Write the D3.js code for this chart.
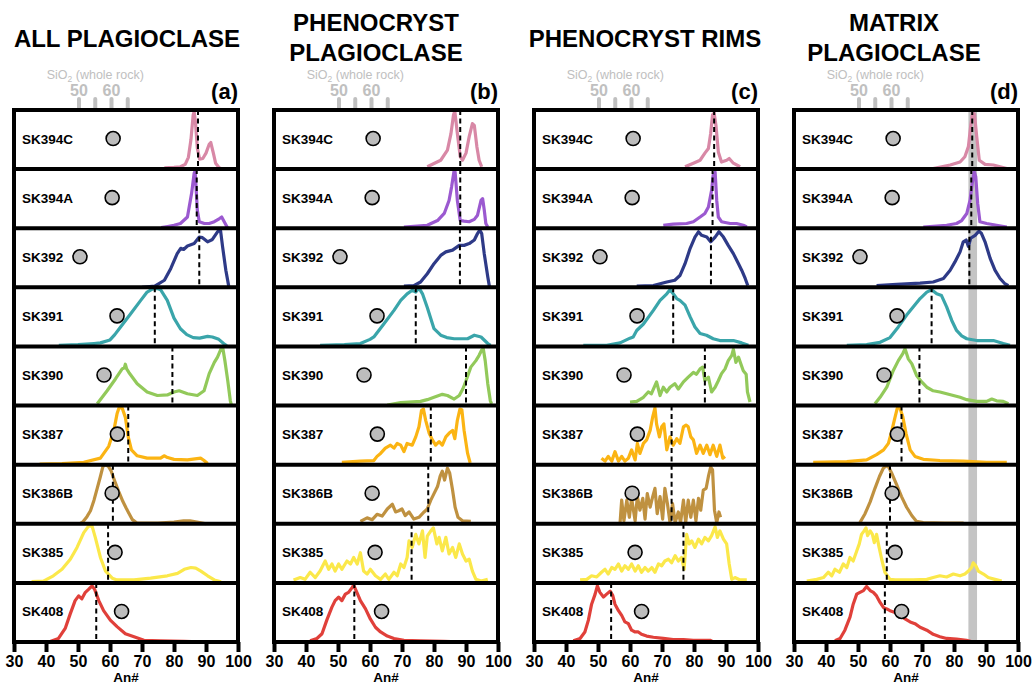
<!DOCTYPE html>
<html>
<head>
<meta charset="utf-8">
<script src="https://cdn.jsdelivr.net/npm/d3@7"></script>
<style>
  body { margin: 0; background: #fff; }
  svg { display: block; font-family: "Liberation Sans", Arial, sans-serif; }
</style>
</head>
<body>
<div class="canvas"></div>
<script>
// samples, top to bottom
const samples = ["SK394C", "SK394A", "SK392", "SK391", "SK390", "SK387", "SK386B", "SK385", "SK408"];
const colors = ["#d888a6", "#9b59d0", "#2e3a87", "#3aa5aa", "#92c95a", "#fbb413", "#bf9140", "#fbe84a", "#e0403a"];
// whole rock SiO2 (wt%) for the grey dots
const sio2 = [60.5, 60.2, 50.3, 61.7, 57.7, 61.8, 60.2, 61.1, 63.1];
const sio2Ticks = [50, 55, 60, 65];
const anTicks = [30, 40, 50, 60, 70, 80, 90, 100];

const titles = [["ALL PLAGIOCLASE"], ["PHENOCRYST", "PLAGIOCLASE"], ["PHENOCRYST RIMS"], ["MATRIX", "PLAGIOCLASE"]];
const letters = ["(a)", "(b)", "(c)", "(d)"];

// median An# (dashed lines)
const medAll = [87.5, 87.1, 87.9, 74.0, 79.5, 65.7, 60.9, 59.4, 55.7];
const medPheno = [88.2, 88.2, 88.1, 74.3, 90.0, 79.0, 78.2, 73.0, 55.1];
const medRims = [86.3, 85.8, 85.3, 73.5, 83.4, 73.0, 73.0, 76.7, 54.1];
const medMatrix = [85.7, 85.4, 84.8, 73.0, 69.2, 63.6, 60.0, 59.0, 58.4];

// matrix band (An#)
const band = [84.5, 87.2];

// density curves [An#, relative density]
const curvesAll = [
  [[77,0.02],[80,0.03],[82,0.04],[83.5,0.08],[84.5,0.2],[85.3,0.5],[86,0.92],[86.3,0.97],[86.7,0.8],[87.3,0.35],[88,0.17],[89,0.18],[90,0.27],[91,0.42],[91.5,0.45],[92.3,0.27],[93,0.1],[94,0.03],[95,0]],
  [[76,0.01],[78,0.03],[80,0.05],[82,0.08],[84.2,0.19],[85.5,0.59],[86.3,0.93],[86.6,0.97],[87.3,0.3],[87.9,0.11],[89.5,0.08],[91,0.08],[92.6,0.11],[94.1,0.16],[94.9,0.19],[95.7,0.11],[96.8,0]],
  [[70,0],[74,0.02],[77,0.12],[79,0.32],[81,0.57],[82.1,0.66],[83,0.64],[84.2,0.7],[86.3,0.74],[87.9,0.85],[88.9,0.84],[90.5,0.77],[92,0.81],[93.6,0.94],[94.5,0.98],[95.2,0.68],[96.2,0.29],[97.1,0.02]],
  [[44,0.02],[50,0.03],[55,0.05],[57,0.06],[60,0.11],[61.5,0.2],[63.3,0.33],[66.4,0.55],[69.6,0.78],[71.6,0.92],[73.2,0.97],[74.8,0.98],[75.8,0.96],[77.9,0.78],[80,0.48],[82,0.3],[84,0.2],[86,0.15],[88,0.14],[90.5,0.17],[92,0.16],[94,0.12],[95.5,0.05],[96.5,0.01]],
  [[56,0.03],[59.1,0.25],[61.7,0.45],[63.8,0.62],[64.5,0.64],[64.8,0.7],[65.2,0.62],[65.9,0.56],[68.5,0.37],[71.6,0.23],[74.8,0.17],[77.9,0.18],[80,0.23],[81.6,0.25],[84.2,0.2],[87.3,0.17],[89.4,0.25],[91,0.54],[92.6,0.73],[93.6,0.82],[94.7,0.96],[95.2,0.99],[95.9,0.76],[96.8,0.42],[97.6,0.08],[98,0]],
  [[38,0.01],[45,0.02],[51.8,0.04],[57,0.11],[59.6,0.31],[61.2,0.58],[62.2,0.86],[62.8,0.96],[63.8,0.96],[64.8,0.8],[65.7,0.47],[66.7,0.25],[68.5,0.15],[71.6,0.11],[75.8,0.11],[76.9,0.15],[78,0.12],[80,0.09],[84.2,0.08],[88.4,0.11],[89.4,0.07],[90.5,0.02]],
  [[50.5,0],[51.5,0.03],[52.8,0.12],[53.9,0.22],[55,0.4],[56,0.6],[57,0.8],[57.8,0.97],[58.5,1],[59.5,0.97],[60.3,0.9],[61.5,0.72],[62.7,0.55],[64,0.38],[65,0.27],[65.9,0.18],[67,0.07],[68.5,0.01],[75,0.01],[80,0.03],[83,0.05],[85,0.05],[88,0.02],[90,0]],
  [[35.5,0.02],[39.2,0.03],[42.3,0.12],[45,0.23],[47.6,0.4],[49.7,0.6],[51.8,0.85],[53.3,0.96],[54.4,0.96],[55.4,0.77],[57,0.43],[58.6,0.2],[60.7,0.08],[62.2,0.05],[67.5,0.05],[72.7,0.08],[77.9,0.12],[81.1,0.16],[83.2,0.23],[85.3,0.26],[86.8,0.25],[88.4,0.2],[90.5,0.12],[92.6,0.05],[94.7,0.02]],
  [[41.3,0.01],[43.9,0.06],[46,0.23],[47.6,0.48],[49.1,0.7],[50.2,0.78],[51.2,0.73],[52.3,0.84],[53.3,0.89],[54.4,0.95],[55.2,0.89],[56.5,0.7],[58,0.53],[60.1,0.37],[62.2,0.26],[64.8,0.14],[67.5,0.09],[70.6,0.03],[75.8,0.02],[83.2,0.01],[90,0]]
];

const curvesPheno = [
  [[77.9,0.04],[82.1,0.15],[84.2,0.32],[85.3,0.6],[86.1,0.92],[86.5,0.98],[87.3,0.6],[88.2,0.21],[88.9,0.15],[90,0.27],[91,0.55],[92,0.77],[92.6,0.74],[93.4,0.38],[94.1,0.15],[94.9,0.04]],
  [[70.6,0.02],[77.9,0.05],[81.1,0.13],[83.2,0.25],[84.7,0.47],[85.5,0.7],[86.3,0.98],[86.6,0.95],[87.3,0.47],[88.2,0.13],[89.4,0.12],[91,0.11],[92.6,0.15],[93.6,0.22],[94.7,0.47],[95.2,0.5],[95.7,0.31],[96.2,0.08],[96.8,0.02]],
  [[70.6,0.02],[73.7,0.03],[75.8,0.09],[77.9,0.23],[80,0.4],[82.1,0.54],[83.7,0.6],[85.8,0.63],[87.9,0.71],[89.4,0.71],[91,0.74],[92.6,0.8],[93.6,0.91],[94.3,0.97],[94.9,0.91],[95.7,0.57],[96.8,0.18],[97.3,0.02]],
  [[44.4,0.02],[52,0.03],[57,0.05],[60,0.12],[61.2,0.16],[64.3,0.38],[67.5,0.61],[69.6,0.78],[71.6,0.89],[73.2,0.95],[74.3,0.92],[75.3,0.99],[76.4,0.89],[77.9,0.66],[80,0.3],[82.1,0.19],[84,0.15],[86.3,0.13],[90.5,0.13],[92.6,0.19],[94.7,0.16],[96.8,0.05],[97.7,0.02]],
  [[65.4,0.01],[69.6,0.05],[75.8,0.07],[77.9,0.1],[80,0.14],[82.6,0.19],[84.2,0.17],[86.3,0.11],[87.9,0.17],[89,0.28],[90,0.42],[91.5,0.65],[93.1,0.76],[94.1,0.85],[94.9,0.94],[95.4,0.96],[96,0.76],[96.8,0.37],[97.6,0.08],[98,0.03]],
  [[51.2,0.04],[57,0.06],[61.2,0.07],[62.2,0.14],[63.3,0.19],[64.8,0.28],[66.4,0.33],[67.5,0.28],[68.5,0.36],[69.6,0.33],[70.6,0.22],[71.6,0.36],[73.2,0.33],[74.3,0.47],[75.3,0.64],[76.1,0.92],[76.7,0.94],[77.4,0.75],[78.5,0.53],[79.5,0.42],[80.5,0.33],[81.6,0.39],[82.6,0.33],[83.7,0.47],[84.7,0.53],[85.8,0.58],[86.5,0.44],[87.3,0.75],[88.1,0.94],[88.7,0.93],[89.4,0.58],[90.5,0.19],[91.3,0.03]],
  [[57,0.04],[59.1,0.1],[60.7,0.07],[62.2,0.16],[63.8,0.13],[65.4,0.25],[67,0.33],[68,0.2],[69,0.22],[70,0.25],[71,0.14],[72.2,0.2],[73.7,0.08],[75.3,0.11],[76.9,0.2],[77.9,0.25],[79,0.4],[80,0.51],[81.1,0.63],[81.9,0.8],[82.6,0.89],[83.3,0.74],[84.2,0.94],[84.9,0.86],[85.8,0.57],[86.6,0.28],[87.5,0.11],[88.9,0.05],[91.5,0.04]],
  [[36.1,0.05],[38.2,0.09],[39.7,0.06],[41.3,0.18],[42.9,0.09],[44.4,0.2],[46,0.37],[47.1,0.23],[48.1,0.32],[49.1,0.2],[50.2,0.32],[51.2,0.23],[52.8,0.37],[53.9,0.32],[54.9,0.43],[56,0.32],[57,0.51],[58,0.2],[59.1,0.15],[60.1,0.23],[61.7,0.12],[63.3,0.06],[64.8,0.15],[65.9,0.06],[67.5,0.18],[68.5,0.12],[69.6,0.32],[70.6,0.26],[71.6,0.43],[72.2,0.71],[73.2,0.6],[74.3,0.82],[75.3,0.66],[76.4,0.88],[77.2,0.43],[77.9,0.79],[79,0.88],[79.8,0.93],[80.9,0.66],[81.6,0.77],[82.6,0.54],[83.7,0.77],[84.7,0.49],[85.8,0.6],[86.8,0.43],[87.9,0.66],[88.9,0.49],[90,0.37],[91,0.4],[92,0.2],[93.1,0.06],[94.7,0.03],[96.8,0.06]],
  [[41.3,0.02],[43.4,0.06],[45,0.14],[46.5,0.37],[48.1,0.59],[49.1,0.7],[50.2,0.76],[51.2,0.7],[52.3,0.81],[53.3,0.84],[54.4,0.92],[54.9,0.96],[55.9,0.84],[57,0.7],[58.6,0.56],[60.1,0.39],[61.7,0.25],[63.3,0.17],[65.4,0.1],[67.5,0.06],[70.6,0.03],[75.8,0.02],[83,0.01],[90,0]]
];

const curvesRims = [
  [[77.2,0.04],[79.8,0.1],[81.9,0.15],[83.4,0.27],[84.5,0.35],[85.2,0.6],[85.8,0.92],[86.3,0.95],[86.9,0.72],[87.6,0.29],[88.6,0.12],[90.2,0.15],[91,0.18],[92.3,0.1],[94.4,0.04]],
  [[70.4,0.05],[73.5,0.07],[77.7,0.08],[79.8,0.11],[81.9,0.19],[83.4,0.25],[84.5,0.36],[85.5,0.64],[86,0.9],[86.6,0.95],[87.1,0.47],[87.6,0.19],[88.6,0.11],[91.3,0.08],[93.3,0.08],[95.4,0.05],[96.5,0.02]],
  [[62.1,0.02],[67.3,0.03],[71.5,0.09],[74,0.12],[75.6,0.2],[77.2,0.4],[78.8,0.66],[80.3,0.85],[81.4,0.94],[82.4,0.88],[84,0.85],[85.2,0.77],[86.6,0.85],[87.8,0.94],[89.2,0.85],[90.7,0.71],[92.3,0.57],[93.9,0.4],[94.9,0.29],[96,0.15],[96.8,0.03]],
  [[45.4,0.02],[52.7,0.02],[56.9,0.06],[60,0.14],[61,0.16],[62.1,0.27],[64.2,0.38],[67.3,0.61],[69.4,0.78],[71.5,0.89],[72.5,0.96],[73.5,0.89],[74.6,0.81],[75.6,0.78],[77.2,0.7],[78.8,0.5],[80.3,0.33],[81.9,0.22],[83.9,0.19],[86,0.13],[88.1,0.1],[92.3,0.1],[94.9,0.06],[97,0.02]],
  [[60,0.06],[62.1,0.07],[64.2,0.14],[65.7,0.23],[66.7,0.2],[68.3,0.4],[69.4,0.17],[70.4,0.31],[71.5,0.23],[72.5,0.31],[74,0.37],[75.1,0.28],[76.7,0.4],[78.2,0.48],[79.8,0.56],[80.8,0.53],[81.9,0.62],[82.7,0.65],[83.4,0.42],[84.5,0.48],[85.5,0.23],[86.6,0.31],[87.6,0.42],[88.6,0.54],[89.7,0.62],[90.7,0.76],[91.8,0.85],[92.3,0.95],[93.1,0.73],[93.9,0.82],[94.6,0.71],[95.4,0.59],[96.3,0.53],[96.7,0.23],[97.5,0.06]],
  [[51.1,0.11],[52.2,0.06],[53.2,0.14],[54.3,0.06],[55.3,0.22],[56.4,0.06],[57.4,0.14],[58.4,0.06],[59.5,0.11],[60.5,0.25],[61.6,0.08],[62.3,0.36],[63.1,0.19],[64.2,0.36],[65.2,0.42],[66.3,0.58],[67.1,0.81],[67.8,0.96],[68.3,0.69],[69.2,0.47],[69.9,0.64],[70.6,0.69],[71.5,0.25],[72.5,0.47],[73.5,0.33],[74.6,0.44],[75.6,0.36],[76.7,0.64],[77.5,0.67],[78.2,0.64],[79,0.47],[79.8,0.42],[80.8,0.19],[81.9,0.33],[82.9,0.19],[84,0.33],[85,0.17],[86,0.33],[87.1,0.14],[88.1,0.33],[89,0.11],[89.7,0.14]],
  [[56.9,0.02],[57.4,0.4],[58.1,0.05],[59,0.4],[59.8,0.11],[60.5,0.43],[61.6,0.05],[62.3,0.46],[63.1,0.23],[64,0.43],[64.7,0.08],[65.4,0.51],[66.3,0.28],[67.1,0.46],[67.8,0.6],[68.5,0.17],[69.4,0.46],[70.2,0.08],[70.9,0.6],[71.7,0.34],[72.5,0.02],[73.3,0.34],[74.1,0.02],[75.1,0.2],[75.8,0.02],[76.7,0.4],[77.4,0.02],[78.2,0.4],[79,0.11],[79.8,0.4],[80.6,0.05],[81.4,0.43],[82.1,0.23],[82.9,0.57],[83.8,0.6],[84.5,0.8],[85.2,0.96],[85.8,0.91],[86.4,0.23],[87.1,0.02],[87.8,0.2],[88.3,0.11]],
  [[44.4,0.05],[46.5,0.06],[48,0.12],[49.6,0.1],[51.1,0.18],[52.2,0.23],[53.2,0.15],[54.3,0.26],[55.3,0.23],[56.4,0.32],[57.4,0.2],[58.4,0.29],[59.5,0.23],[60.5,0.32],[61.6,0.2],[62.6,0.29],[63.6,0.18],[64.7,0.26],[65.7,0.2],[66.8,0.26],[67.8,0.18],[68.9,0.32],[69.9,0.29],[70.9,0.37],[72,0.4],[73,0.34],[74.1,0.46],[75.1,0.37],[76.1,0.43],[76.9,0.23],[77.7,0.82],[78.5,0.66],[79.3,0.71],[80.3,0.6],[81.4,0.74],[82.4,0.66],[83.4,0.77],[84.5,0.71],[85.5,0.8],[86.6,0.95],[87.3,0.77],[88.1,0.88],[89.2,0.74],[90.2,0.66],[91,0.32],[91.8,0.06],[92.8,0.09],[94.4,0.05],[96.5,0.05]],
  [[42.3,0.02],[44.4,0.06],[45.9,0.17],[47,0.37],[48,0.64],[49.1,0.81],[49.8,0.95],[50.6,0.84],[51.7,0.76],[52.7,0.81],[53.8,0.86],[54.6,0.79],[55.3,0.64],[56.4,0.53],[57.4,0.45],[58.4,0.34],[59.5,0.31],[60.5,0.2],[61.6,0.17],[62.6,0.17],[63.6,0.13],[65.2,0.1],[67.3,0.08],[70.4,0.06],[73.5,0.04],[76.7,0.04],[79.8,0.03],[85,0.03],[86,0]]
];

const curvesMatrix = [
  [[73.5,0.01],[78.8,0.07],[81.9,0.12],[83.4,0.21],[84.5,0.38],[85.2,0.72],[85.8,0.95],[86.4,0.93],[87.1,0.55],[87.9,0.15],[89.7,0.08],[92.3,0.07],[96.5,0.01]],
  [[70.4,0.02],[77.7,0.05],[80.8,0.08],[82.4,0.13],[84,0.25],[85,0.47],[85.7,0.76],[86.3,0.96],[86.8,0.87],[87.4,0.42],[88.1,0.11],[90.2,0.08],[93.3,0.05],[96.5,0.02]],
  [[55.8,0.03],[62.1,0.05],[69.4,0.07],[73.5,0.09],[76.7,0.15],[78.8,0.29],[80.3,0.43],[81.9,0.6],[82.9,0.77],[83.8,0.8],[84.5,0.69],[85.2,0.83],[86.6,0.88],[87.8,0.95],[88.6,0.91],[89.7,0.77],[91.3,0.49],[92.8,0.29],[94.4,0.15],[95.9,0.06],[97,0.03]],
  [[46.5,0.02],[52.7,0.03],[56.9,0.07],[60,0.15],[62.6,0.33],[65.2,0.53],[67.3,0.67],[69.4,0.81],[71.5,0.92],[73,0.96],[74.6,0.89],[76.1,0.86],[77.7,0.67],[79.3,0.44],[80.8,0.27],[82.4,0.18],[84,0.13],[87.1,0.1],[92.3,0.1],[95.4,0.05],[97.5,0.02]],
  [[55.3,0.03],[56.9,0.14],[59,0.31],[61,0.59],[62.6,0.76],[64,0.88],[64.7,0.96],[65.7,0.79],[66.8,0.71],[68.3,0.51],[69.9,0.4],[71.5,0.31],[73.5,0.25],[75.6,0.23],[77.7,0.2],[79.8,0.17],[81.9,0.14],[84,0.1],[87.1,0.07],[90.2,0.07],[91.8,0.11],[93.3,0.08],[95.4,0.07],[97,0.03]],
  [[36,0.04],[46.5,0.05],[52.7,0.08],[55.8,0.17],[58,0.25],[59.5,0.36],[60.5,0.56],[61.6,0.81],[62.3,0.96],[63.1,0.96],[64,0.81],[65,0.53],[66.3,0.25],[67.8,0.14],[70.4,0.09],[75.6,0.07],[82.9,0.06],[90.2,0.04],[96.5,0.04]],
  [[50.6,0.02],[52.2,0.17],[53.8,0.37],[55.3,0.6],[56.7,0.8],[57.9,0.94],[58.8,0.98],[59.5,0.97],[60.5,0.86],[62.1,0.66],[63.6,0.46],[65.2,0.28],[66.8,0.14],[68.3,0.04],[70.4,0.02],[77,0.01],[83,0.01]],
  [[34,0.03],[37.1,0.06],[39.2,0.09],[40.7,0.18],[41.8,0.12],[42.8,0.23],[44.2,0.18],[45.4,0.32],[46.5,0.26],[47.5,0.43],[48.5,0.37],[49.6,0.54],[50.4,0.66],[51.1,0.82],[51.9,0.88],[52.5,0.93],[53,0.8],[53.8,0.88],[54.5,0.82],[55.1,0.68],[55.8,0.82],[56.6,0.6],[57.4,0.4],[58.4,0.18],[60,0.06],[61.6,0.05],[67.3,0.05],[71.5,0.06],[73.5,0.09],[75.6,0.12],[77.7,0.1],[79.8,0.15],[81.9,0.12],[83.4,0.15],[84.5,0.2],[85.5,0.26],[86,0.34],[86.8,0.29],[87.6,0.2],[89.2,0.15],[90.7,0.09],[92.8,0.06],[94.9,0.03]],
  [[42.8,0.02],[44.4,0.06],[45.9,0.2],[47.5,0.42],[48.5,0.64],[49.6,0.81],[50.6,0.84],[51.7,0.87],[52.7,0.94],[53.8,0.87],[54.8,0.84],[55.8,0.78],[56.9,0.67],[58,0.58],[59,0.56],[60,0.53],[61.6,0.5],[63.1,0.45],[64.7,0.39],[66.3,0.34],[67.8,0.31],[69.4,0.25],[71.5,0.2],[73.5,0.13],[75.6,0.09],[77.7,0.06],[80.8,0.05],[83.9,0.03],[86,0]]
];

const panelCurves = [curvesAll, curvesPheno, curvesRims, curvesMatrix];
const panelMedians = [medAll, medPheno, medRims, medMatrix];

// layout
const panelLeft = [14, 274, 534, 794];
const panelW = 224;
const boxTop = 110, boxBottom = 642;
const rowH = (boxBottom - boxTop) / samples.length;
const titleX = [127, 376, 645, 894];

const svg = d3.select(".canvas")
  .append("svg")
  .attr("width", 1033)
  .attr("height", 686);

svg.append("rect").attr("width", 1033).attr("height", 686).attr("fill", "#fff");

panelLeft.forEach((left, p) => {
  const x = d3.scaleLinear().domain([30, 100]).range([left, left + panelW]);
  const xs = d3.scaleLinear().domain([50, 60]).range([left + 65, left + 97.5]);
  const g = svg.append("g");

  // title
  const t = g.append("text")
    .attr("x", titleX[p])
    .attr("text-anchor", "middle")
    .attr("font-size", 24)
    .attr("font-weight", "bold")
    .attr("fill", "#000");
  const lines = titles[p];
  lines.forEach((s, i) => {
    t.append("tspan")
      .attr("x", titleX[p])
      .attr("y", lines.length === 1 ? 47 : 31 + i * 30)
      .text(s);
  });

  // panel letter
  g.append("text")
    .attr("x", left + panelW)
    .attr("y", 99)
    .attr("text-anchor", "end")
    .attr("font-size", 22)
    .attr("font-weight", "bold")
    .text(letters[p]);

  // SiO2 mini axis
  const st = g.append("text")
    .attr("x", xs(55))
    .attr("y", 79)
    .attr("text-anchor", "middle")
    .attr("font-size", 12.5)
    .attr("fill", "#c0c0c0");
  st.append("tspan").text("SiO");
  st.append("tspan").attr("font-size", 8.5).attr("dy", 3).text("2");
  st.append("tspan").attr("dy", -3).text(" (whole rock)");

  g.selectAll(".sl").data([50, 60]).join("text")
    .attr("x", d => xs(d))
    .attr("y", 96)
    .attr("text-anchor", "middle")
    .attr("font-size", 16)
    .attr("font-weight", "bold")
    .attr("fill", "#c0c0c0")
    .text(d => d);

  g.selectAll(".stk").data(sio2Ticks).join("line")
    .attr("x1", d => xs(d)).attr("x2", d => xs(d))
    .attr("y1", 99).attr("y2", boxTop)
    .attr("stroke", "#c0c0c0")
    .attr("stroke-width", 4)
    .attr("stroke-linecap", "round");

  // grey band for matrix panel
  if (p === 3) {
    g.append("rect")
      .attr("x", x(band[0]))
      .attr("y", boxTop)
      .attr("width", x(band[1]) - x(band[0]))
      .attr("height", boxBottom - boxTop)
      .attr("fill", "#c4c4c4");
  }

  samples.forEach((name, i) => {
    const y = d3.scaleLinear().domain([0, 1]).range([boxTop + (i + 1) * rowH, boxTop + i * rowH]);
    const line = d3.line().x(d => x(d[0])).y(d => y(d[1]));

    g.append("path")
      .datum(panelCurves[p][i])
      .attr("d", line)
      .attr("fill", "none")
      .attr("stroke", colors[i])
      .attr("stroke-width", 3.2)
      .attr("stroke-linejoin", "round");

    const m = panelMedians[p][i];
    g.append("line")
      .attr("x1", x(m)).attr("x2", x(m))
      .attr("y1", boxTop + i * rowH).attr("y2", boxTop + (i + 1) * rowH)
      .attr("stroke", "#000")
      .attr("stroke-width", 2)
      .attr("stroke-dasharray", "5,3.5");

    g.append("circle")
      .attr("cx", xs(sio2[i]))
      .attr("cy", boxTop + (i + 0.5) * rowH - 1)
      .attr("r", 7)
      .attr("fill", "#bdbdbd")
      .attr("stroke", "#000")
      .attr("stroke-width", 1.6);

    g.append("text")
      .attr("x", left + 8)
      .attr("y", boxTop + (i + 0.5) * rowH + 4)
      .attr("font-size", 13.5)
      .attr("font-weight", "bold")
      .text(name);
  });

  // row separators and frame
  g.selectAll(".sep").data(d3.range(1, samples.length)).join("line")
    .attr("x1", left).attr("x2", left + panelW)
    .attr("y1", d => boxTop + d * rowH).attr("y2", d => boxTop + d * rowH)
    .attr("stroke", "#000")
    .attr("stroke-width", 4);

  g.append("rect")
    .attr("x", left).attr("y", boxTop)
    .attr("width", panelW).attr("height", boxBottom - boxTop)
    .attr("fill", "none")
    .attr("stroke", "#000")
    .attr("stroke-width", 4);

  // An# axis
  const ax = g.append("g")
    .attr("transform", `translate(0,${boxBottom})`)
    .call(d3.axisBottom(x).tickValues(anTicks).tickSize(10).tickPadding(4).tickFormat(d3.format("d")));
  ax.select(".domain").remove();
  ax.selectAll(".tick line").attr("stroke", "#000").attr("stroke-width", 4);
  ax.selectAll(".tick text")
    .attr("font-size", 16)
    .attr("font-weight", "bold")
    .attr("font-family", "Liberation Sans, Arial, sans-serif")
    .attr("fill", "#000");

  g.append("text")
    .attr("x", left + panelW / 2)
    .attr("y", 682)
    .attr("text-anchor", "middle")
    .attr("font-size", 13.5)
    .attr("font-weight", "bold")
    .text("An#");
});
</script>
</body>
</html>
